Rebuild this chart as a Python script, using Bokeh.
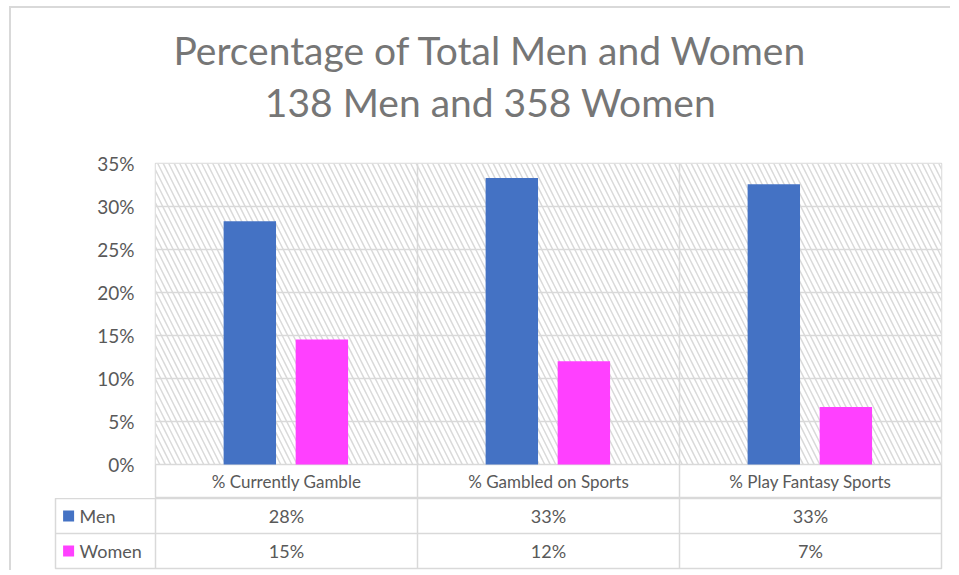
from bokeh.plotting import figure
from bokeh.models import (Range1d, FactorRange, FixedTicker, PrintfTickFormatter,
                          BoxAnnotation, Span, ColumnDataSource)
from bokeh.transform import dodge
from bokeh.layouts import column
from bokeh.embed import file_html
from bokeh.resources import INLINE
from bokeh.core.properties import value

# ---------------- data ----------------
title_lines = ["Percentage of Total Men and Women", "138 Men and 358 Women"]
categories = ["% Currently Gamble", "% Gambled on Sports", "% Play Fantasy Sports"]
series_names = ["Men", "Women"]
men = [28.3, 33.3, 32.6]
women = [14.53, 12.0, 6.7]
y_ticks = [0, 5, 10, 15, 20, 25, 30, 35]

# ---------------- style ----------------
MEN_COLOR = "#4472C4"
WOMEN_COLOR = "#FF40FF"
TEXT = "#595959"
TITLE_COLOR = "#767676"
GRID = "#d9d9d9"
FONT = "Lato"

Y_MAX = 35
Y_HEADER = -3.95          # depth of the category-label row below 0
LEG_COL = 100 / 262       # width of the legend column, in category units
HEAD_H = 122              # height of the title strip, px
TITLE_Y = [81, 29]        # title line centres inside the title strip, px from its bottom


def bare(fig):
    fig.frame_align = False
    fig.background_fill_color = "white"
    fig.border_fill_color = "white"


# ---------------- title strip ----------------
r = figure(x_range=Range1d(0, 1), y_range=Range1d(0, HEAD_H), width=939, height=HEAD_H,
           min_border_left=19, min_border_right=0, min_border_top=0, min_border_bottom=0,
           output_backend="svg", toolbar_location=None, tools="")
bare(r)
r.outline_line_color = None
r.axis.visible = False
r.grid.visible = False
r.text(x=[0.5] * len(title_lines), y=TITLE_Y, text=title_lines, text_align="center",
       text_baseline="middle", text_font=value(FONT), text_font_size="39px",
       text_color=TITLE_COLOR)

# ---------------- chart ----------------
src = ColumnDataSource(dict(cat=categories, men=men, women=women,
                            label_y=[Y_HEADER / 2] * len(categories)))

p = figure(x_range=FactorRange(factors=categories, range_padding=0),
           y_range=Range1d(Y_HEADER, Y_MAX),
           width=939, height=368,
           min_border_left=144, min_border_right=9, min_border_top=33, min_border_bottom=0,
           output_backend="svg", toolbar_location=None, tools="")
bare(p)
p.outline_line_color = GRID
p.outline_line_width = 1.5

p.xaxis.visible = False
p.xgrid.visible = False
p.yaxis.ticker = FixedTicker(ticks=y_ticks)
p.yaxis.formatter = PrintfTickFormatter(format="%d%%")
p.yaxis.axis_line_color = None
p.yaxis.major_tick_line_color = None
p.yaxis.minor_tick_line_color = None
p.yaxis.major_label_text_font = FONT
p.yaxis.major_label_text_font_size = "19px"
p.yaxis.major_label_text_color = TEXT
p.yaxis.major_label_standoff = 15
p.ygrid.ticker = FixedTicker(ticks=y_ticks)
p.ygrid.grid_line_color = GRID
p.ygrid.grid_line_width = 1.5

hatch = BoxAnnotation(bottom=0, fill_color="white", fill_alpha=1, line_color=None,
                      hatch_pattern="\\", hatch_color="#dadada", hatch_scale=11,
                      hatch_weight=1.5, level="image")
p.add_layout(hatch)

for loc in range(1, len(categories)):
    p.add_layout(Span(location=loc, dimension="height", line_color=GRID,
                      line_width=1.5, level="underlay"))

p.vbar(x=dodge("cat", -0.14, range=p.x_range), top="men", bottom=0, width=0.2,
       source=src, fill_color=MEN_COLOR, line_color=None)
p.vbar(x=dodge("cat", 0.135, range=p.x_range), top="women", bottom=0, width=0.2,
       source=src, fill_color=WOMEN_COLOR, line_color=None)

p.text(x="cat", y="label_y", text="cat", source=src, text_align="center",
       text_baseline="middle", text_font=value(FONT), text_font_size="17px",
       text_color=TEXT)

# ---------------- data table ----------------
n = len(categories)
x_left = -LEG_COL
q = figure(x_range=Range1d(x_left, n), y_range=Range1d(0, 2),
           width=939, height=72,
           min_border_left=44, min_border_right=9, min_border_top=0, min_border_bottom=2,
           output_backend="svg", toolbar_location=None, tools="")
bare(q)
q.outline_line_color = GRID
q.outline_line_width = 1.5
q.xaxis.visible = False
q.yaxis.visible = False
q.xgrid.ticker = FixedTicker(ticks=list(range(n)))
q.ygrid.ticker = FixedTicker(ticks=[1])
q.grid.grid_line_color = GRID
q.grid.grid_line_width = 1.5

rows_y = [1.5, 0.5]
cell_x, cell_y, cell_text = [], [], []
for series, ry in zip([men, women], rows_y):
    for i, v in enumerate(series):
        cell_x.append(i + 0.5)
        cell_y.append(ry)
        cell_text.append(f"{v:.0f}%")
q.text(x=cell_x, y=cell_y, text=cell_text, text_align="center", text_baseline="middle",
       text_font=value(FONT), text_font_size="18px", text_color=TEXT)

q.rect(x=[x_left + 0.05] * 2, y=rows_y, width=11, height=11,
       width_units="screen", height_units="screen",
       fill_color=[MEN_COLOR, WOMEN_COLOR], line_color=None)
q.text(x=[x_left + 0.092] * 2, y=rows_y, text=series_names, text_align="left",
       text_baseline="middle", text_font=value(FONT), text_font_size="18px",
       text_color=TEXT)

layout = column(r, p, q, spacing=0,
                styles={"border-top": "2px solid #d9d9d9", "border-left": "2px solid #d9d9d9",
                        "margin-left": "9px", "margin-top": "6px"})

open("out.html", "w").write(file_html(layout, INLINE))
